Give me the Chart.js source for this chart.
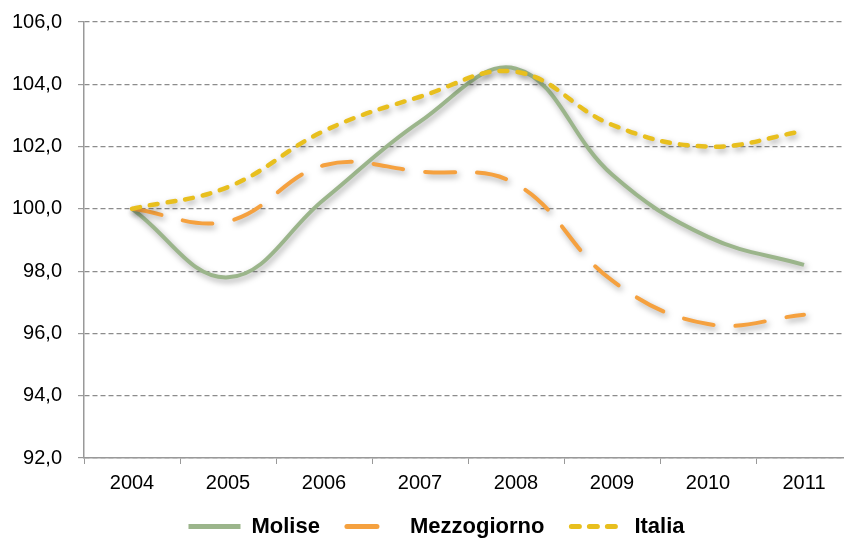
<!DOCTYPE html>
<html>
<head>
<meta charset="utf-8">
<script src="https://cdn.jsdelivr.net/npm/chart.js@4/dist/chart.umd.min.js"></script>
<style>
	html, body { margin: 0; padding: 0; overflow: hidden; background: #fff; }
	#wrap { width: 856px; height: 561px; }
</style>
</head>
<body>
<div id="wrap"><canvas id="mycanvas"></canvas></div>
<script>
var years = ["2004", "2005", "2006", "2007", "2008", "2009", "2010", "2011"];
var molise = [100.0, 97.8, 100.3, 102.8, 104.5, 101.1, 99.1, 98.2];
var mezzogiorno = [100.0, 99.6, 101.4, 101.2, 100.8, 97.7, 96.3, 96.6];
var italia = [100.0, 100.7, 102.5, 103.6, 104.4, 102.7, 102.0, 102.5];

// soft grey shadow under each line, like the spreadsheet original
var lineShadow = {
	id: 'lineShadow',
	beforeDatasetDraw: function(chart) {
		var ctx = chart.ctx;
		ctx.save();
		ctx.shadowColor = 'rgba(0, 0, 0, 0.35)';
		ctx.shadowBlur = 6;
		ctx.shadowOffsetX = 2;
		ctx.shadowOffsetY = 3;
	},
	afterDatasetDraw: function(chart) {
		chart.ctx.restore();
	}
};

// nudge the legend a bit (it sits closer to the axis labels in the original)
var legendShift = {
	id: 'legendShift',
	afterLayout: function(chart) {
		var lg = chart.legend;
		lg.left += 4.5;
		lg.right += 4.5;
		lg.top -= 13.5;
		lg.bottom -= 13.5;
	}
};

Chart.defaults.font.family = '"Liberation Sans", Arial, sans-serif';
Chart.defaults.color = '#000';

var chartdata = {
	labels: years,
	datasets: [
		{
			label: 'Molise',
			data: molise,
			borderColor: '#9bb58b',
			backgroundColor: '#9bb58b',
			borderWidth: 4,
			tension: 0.4,
			pointRadius: 0,
			order: 2
		},
		{
			label: 'Mezzogiorno',
			data: mezzogiorno,
			borderColor: '#f5a13f',
			backgroundColor: '#f5a13f',
			borderWidth: 4,
			borderDash: [30, 22],
			borderCapStyle: 'round',
			tension: 0.4,
			pointRadius: 0,
			order: 1
		},
		{
			label: 'Italia',
			data: italia,
			borderColor: '#e8bf1e',
			backgroundColor: '#e8bf1e',
			borderWidth: 4.5,
			borderDash: [8, 10],
			borderCapStyle: 'round',
			tension: 0.4,
			pointRadius: 0,
			order: 0
		}
	]
};

var ctx = document.getElementById('mycanvas');

var lineGraph = new Chart(ctx, {
	type: 'line',
	data: chartdata,
	plugins: [lineShadow, legendShift],
	options: {
		responsive: true,
		maintainAspectRatio: false,
		animation: false,
		layout: {
			padding: { top: 22, left: 12, right: 4, bottom: 0 }
		},
		plugins: {
			tooltip: { enabled: false },
			legend: {
				position: 'bottom',
				labels: {
					usePointStyle: true,
					pointStyle: 'line',
					pointStyleWidth: 52,
					padding: 27,
					font: { size: 22, weight: 'bold' },
					sort: function(a, b) { return a.datasetIndex - b.datasetIndex; },
					generateLabels: function(chart) {
						var items = Chart.defaults.plugins.legend.labels.generateLabels(chart);
						items.forEach(function(item) {
							var ds = chart.data.datasets[item.datasetIndex];
							item.lineDash = ds.borderDash || [];
							item.lineCap = ds.borderCapStyle || 'butt';
							item.lineWidth = 5;
						});
						return items;
					}
				}
			}
		},
		scales: {
			x: {
				offset: true,
				grid: {
					offset: true,
					drawOnChartArea: false,
					drawTicks: true,
					tickLength: 6,
					color: '#999'
				},
				border: { display: true, color: '#999', width: 1.5 },
				ticks: { font: { size: 20 }, padding: 7, maxRotation: 0 }
			},
			y: {
				min: 92,
				max: 106,
				afterFit: function(scale) {
					scale.width = 72;
					scale.paddingTop = 0;
					scale.paddingBottom = 0;
				},
				grid: {
					color: '#8c8c8c',
					lineWidth: 1.2,
					tickLength: 6,
					tickColor: '#999',
					tickBorderDash: []
				},
				border: { display: true, color: '#999', width: 1.5, dash: [5, 3] },
				ticks: {
					stepSize: 2,
					padding: 16,
					font: { size: 20 },
					callback: function(v) { return v.toFixed(1).replace('.', ','); }
				}
			}
		}
	}
});
</script>
</body>
</html>
